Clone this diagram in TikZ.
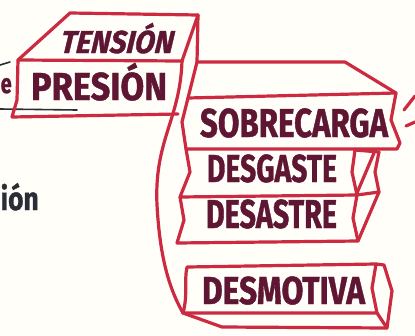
\documentclass[tikz,border=0pt]{standalone}
\usepackage{fontspec}
\usepackage{graphicx}
\setmainfont{Fira Sans}[BoldFeatures={FakeBold=1.2}, BoldItalicFeatures={FakeBold=1.2, FakeSlant=0.12}]
\definecolor{redline}{HTML}{CC2A40}
\definecolor{maroon}{HTML}{5E1632}
\definecolor{inkdark}{HTML}{2B2D36}
\definecolor{paper}{HTML}{FFFEF9}
\newcommand\fitcap[3]{\resizebox{#1}{#2}{\raisebox{0pt}[\fontcharht\font`H][0pt]{#3}}}
\tikzset{
  outline/.style={draw=redline, line width=3.2pt, line join=round, line cap=round},
  lbl/.style={inner sep=0pt, outer sep=0pt, text=maroon, font=\bfseries},
  ilbl/.style={inner sep=0pt, outer sep=0pt, text=maroon, font=\bfseries\itshape},
  ink/.style={draw=inkdark, line width=1.6pt, line cap=round}
}
\begin{document}
\begin{tikzpicture}[x=1pt,y=-1pt]
\fill[paper] (0,0) rectangle (415,335);
\clip (0,0) rectangle (415,335);
% fragments at the left
\draw[ink] (0,65) -- (10,62);
\draw[ink] (0,109) -- (77,110);
\node[inner sep=0pt, anchor=base west, text=maroon, font=\fontsize{27}{30}\selectfont\bfseries] (e) at (0.5,93) {\resizebox{11pt}{15pt}{e}};
\node[inner sep=0pt, anchor=base west, text=inkdark, font=\fontsize{32}{36}\selectfont\bfseries] (ion) at (0.5,210) {\resizebox{38pt}{27pt}{ión}};
% PRESION / TENSION box
\draw[outline] (18,60) -- (70,13) -- (198,15) -- (182,61);
\draw[outline] (18,60) -- (182,61);
\draw[outline] (18,60) -- (17,100) -- (12,117) -- (178,114);
\draw[outline] (182,61) .. controls (180,120) and (154,140) .. (157,205)
               .. controls (160,260) and (170,290) .. (183,313);
\draw[outline] (198,15) -- (197,62) -- (188,98);
% SOBRECARGA box
\draw[outline] (197,62) -- (345,62) -- (396,93);
\draw[outline] (188,98) -- (396,93) -- (391,120) -- (400,143) -- (397,149) -- (186,149) -- (182,122) -- cycle;
% DESGASTE
\draw[outline] (355,150) -- (352,172) -- (357,195) -- (180,197) -- (190,172) -- (186,149);
\draw[outline] (355,150) -- (379,152) -- (375,172) -- (379,192) -- (357,195);
\draw[outline] (374,153) -- (357,193);
% DESASTRE
\draw[outline] (357,195) -- (353,218) -- (358,241) -- (177,243) -- (184,220) -- (180,197);
\draw[outline] (379,192) -- (358,241);
% DESMOTIVA
\draw[outline] (187,267) -- (376,264) -- (372,288) -- (377,313) -- (183,313)
   .. controls (188,295) and (184,280) .. (187,267);
\draw[outline] (376,264) -- (384,265) -- (392,291) -- (387,328) -- (222,327) -- (183,313);
\draw[outline] (377,313) -- (387,328);
% strokes at the right
\draw[outline] (404,110) -- (415,96);
\draw[outline] (406,126) -- (415,122);
% labels
\node[ilbl, anchor=south west] (tension) at (60,53) {\fitcap{113pt}{22pt}{TENSIÓN}};
\node[lbl, anchor=south west] (presion) at (31,100) {\fitcap{136pt}{27pt}{PRESIÓN}};
\node[lbl, anchor=south west] (sobrecarga) at (200,137) {\fitcap{188pt}{28pt}{SOBRECARGA}};
\node[lbl, anchor=south west] (desgaste) at (207,182) {\fitcap{130pt}{27pt}{DESGASTE}};
\node[lbl, anchor=south west] (desastre) at (206,228) {\fitcap{131pt}{28pt}{DESASTRE}};
\node[lbl, anchor=south west] (desmotiva) at (202,304) {\fitcap{163pt}{27pt}{DESMOTIVA}};
\end{tikzpicture}
\end{document}
